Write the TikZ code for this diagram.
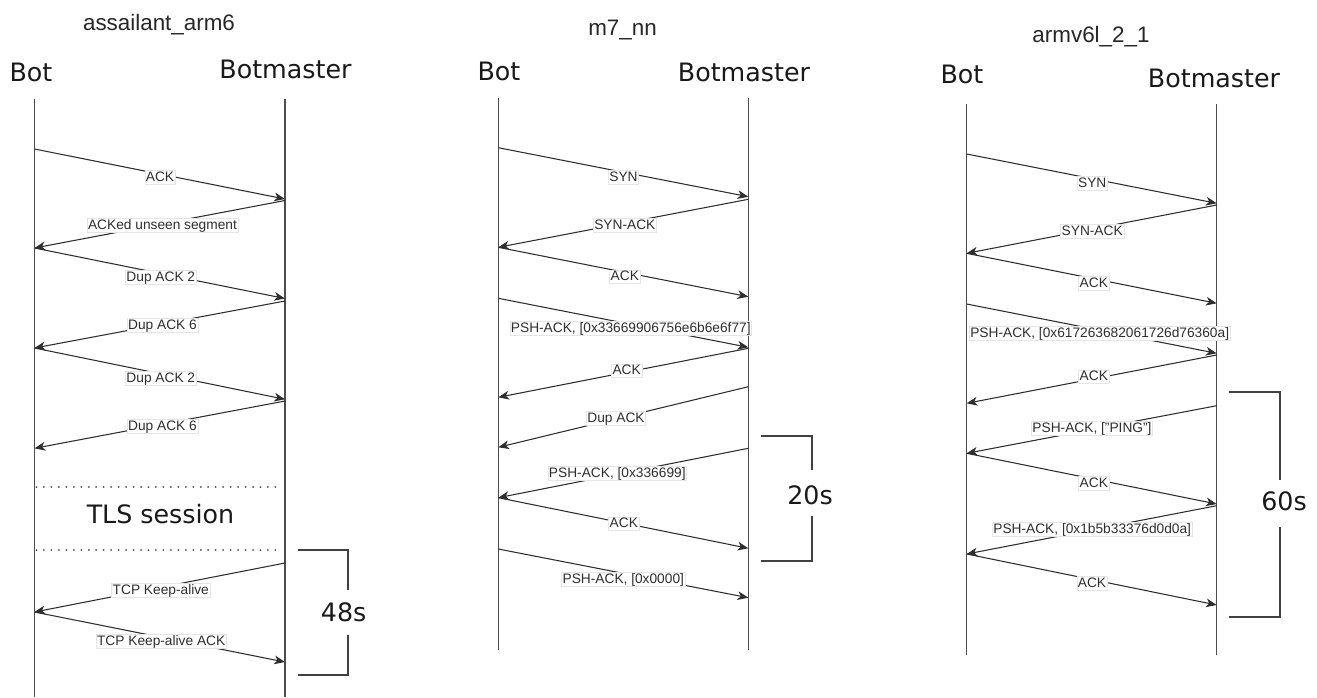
\documentclass[tikz,border=0pt]{standalone}
\usepackage{fontspec}
\setmainfont{Liberation Sans}
\newfontfamily\headfont{DejaVu Sans}
\usetikzlibrary{arrows.meta}
\definecolor{ink}{HTML}{2E2E2E}
\definecolor{lifegray}{HTML}{4D4D4D}
\begin{document}
\begin{tikzpicture}[x=0.75pt,y=-0.75pt,
  title/.style={anchor=base, inner sep=0pt, text=black!85, font=\fontsize{16.8}{20}\selectfont},
  head/.style={anchor=base, inner sep=0pt, text=black!90, font=\headfont\fontsize{19}{22}\selectfont},
  big/.style={anchor=base, inner sep=0pt, text=black!90, font=\headfont\fontsize{19}{22}\selectfont},
  life/.style={draw=lifegray, line width=0.8pt},
  msg/.style={draw=ink, line width=0.8pt, -{Stealth[length=8pt,width=6.5pt,inset=2.3pt]}},
  lbl/.style={fill=white, draw=black!10, line width=0.4pt, inner xsep=0.8pt, inner ysep=0.6pt,
    text height=7.6pt, text depth=1.6pt, text=ink, font=\fontsize{10.3}{12}\selectfont},
  sep/.style={draw=black!70, line width=1.5pt, line cap=round, dash pattern=on 0pt off 5.6pt},
  brk/.style={draw=black!75, line width=0.8pt}]
\useasboundingbox (0,0) rectangle (1317,697);

% ---------- titles and participants ----------
\node[title] (t1) at (159,30) {assailant\_arm6};
\node[title] (t2) at (622.5,35.7) {m7\_nn};
\node[title] (t3) at (1091,42) {armv6l\_2\_1};

\node[head] (bot1) at (31,81) {Bot};
\node[head] (bm1) at (285.5,78.3) {Botmaster};
\node[head] (bot2) at (499,80) {Bot};
\node[head] (bm2) at (744,81) {Botmaster};
\node[head] (bot3) at (962,83.3) {Bot};
\node[head] (bm3) at (1214,87.3) {Botmaster};

% ---------- lifelines ----------
\coordinate (L1t) at (34.5,99);   \coordinate (L1b) at (34.5,697);
\coordinate (R1t) at (285,99);    \coordinate (R1b) at (285,697);
\coordinate (L2t) at (498.3,98);  \coordinate (L2b) at (498.3,650);
\coordinate (R2t) at (748.3,98);  \coordinate (R2b) at (748.3,650);
\coordinate (L3t) at (966.7,104); \coordinate (L3b) at (966.7,655);
\coordinate (R3t) at (1216.7,104);\coordinate (R3b) at (1216.7,655);
\foreach \p in {1,2,3} {
  \draw[life] (L\p t) -- (L\p b);
  \draw[life] (R\p t) -- (R\p b);
}

% ---------- message end points ----------
\foreach \n/\y in {1/149,2/248,3/348,4/448.3,5/612}
  \coordinate (a\n) at (34.5,\y);
\foreach \n/\y in {1/199,2/200.5,3/298.5,4/301,5/399.3,6/401,7/563,8/662}
  \coordinate (b\n) at (285,\y);
\foreach \n/\y in {1/147.7,2/247.3,3/298.3,4/397.3,5/447.3,6/497.7,7/549}
  \coordinate (c\n) at (498.3,\y);
\foreach \n/\y in {1/196.7,2/199.3,3/296.7,4/347.3,5/348.3,6/386.7,7/448.3,8/548.3,9/597.7}
  \coordinate (d\n) at (748.3,\y);
\foreach \n/\y in {1/154,2/253.3,3/304,4/403.3,5/453.3,6/554}
  \coordinate (e\n) at (966.7,\y);
\foreach \n/\y in {1/203.3,2/205,3/303.3,4/353.3,5/355,6/405.7,7/504,8/505.7,9/605}
  \coordinate (f\n) at (1216.7,\y);

% ---------- assailant_arm6 ----------
\draw[msg] (a1) -- (b1) node[lbl] at (160,177) {ACK};
\draw[msg] (b2) -- (a2) node[lbl] at (162.5,225) {ACKed unseen segment};
\draw[msg] (a2) -- (b3) node[lbl] at (160.8,277.3) {Dup ACK 2};
\draw[msg] (b4) -- (a3) node[lbl] at (162.5,325) {Dup ACK 6};
\draw[msg] (a3) -- (b5) node[lbl] at (160.8,378.3) {Dup ACK 2};
\draw[msg] (b6) -- (a4) node[lbl] at (162.5,426) {Dup ACK 6};

\draw[sep] (36.5,487) -- (278,487);
\node[big] (tls) at (160.5,523.3) {TLS session};
\draw[sep] (36.5,550) -- (278,550);

\draw[msg] (b7) -- (a5) node[lbl] at (160.8,590) {TCP Keep-alive};
\draw[msg] (a5) -- (b8) node[lbl] at (161.2,641) {TCP Keep-alive ACK};

\draw[brk] (298,550) -- (348,550) -- (348,590);
\draw[brk] (348,635) -- (348,675) -- (298,675);
\node[big] (d48) at (343.7,621) {48s};

% ---------- m7_nn ----------
\draw[msg] (c1) -- (d1) node[lbl] at (623.5,177.3) {SYN};
\draw[msg] (d2) -- (c2) node[lbl] at (624.8,225.3) {SYN-ACK};
\draw[msg] (c2) -- (d3) node[lbl] at (624.8,276.7) {ACK};
\draw[msg] (c3) -- (d4) node[lbl] at (630.8,328.3) {PSH-ACK, [0x33669906756e6b6e6f77]};
\draw[msg] (d5) -- (c4) node[lbl] at (626.7,370.7) {ACK};
\draw[msg] (d6) -- (c5) node[lbl] at (616,418.3) {Dup ACK};
\draw[msg] (d7) -- (c6) node[lbl] at (617.3,473.3) {PSH-ACK, [0x336699]};
\draw[msg] (c6) -- (d8) node[lbl] at (623.8,523.8) {ACK};
\draw[msg] (c7) -- (d9) node[lbl] at (623.3,579) {PSH-ACK, [0x0000]};

\draw[brk] (761,436) -- (812,436) -- (812,470);
\draw[brk] (812,516) -- (812,561) -- (761,561);
\node[big] (d20) at (810,504.3) {20s};

% ---------- armv6l_2_1 ----------
\draw[msg] (e1) -- (f1) node[lbl] at (1092.2,183.3) {SYN};
\draw[msg] (f2) -- (e2) node[lbl] at (1092.2,231) {SYN-ACK};
\draw[msg] (e2) -- (f3) node[lbl] at (1093.8,283.3) {ACK};
\draw[msg] (e3) -- (f4) node[lbl] at (1099.7,333.3) {PSH-ACK, [0x617263682061726d76360a]};
\draw[msg] (f5) -- (e4) node[lbl] at (1093.8,376.7) {ACK};
\draw[msg] (f6) -- (e5) node[lbl] at (1092,428.3) {PSH-ACK, ["PING"]};
\draw[msg] (e5) -- (f7) node[lbl] at (1093.8,483.3) {ACK};
\draw[msg] (f8) -- (e6) node[lbl] at (1092.2,529) {PSH-ACK, [0x1b5b33376d0d0a]};
\draw[msg] (e6) -- (f9) node[lbl] at (1092,583.3) {ACK};

\draw[brk] (1229,392) -- (1280,392) -- (1280,480);
\draw[brk] (1280,527) -- (1280,617) -- (1229,617);
\node[big] (d60) at (1284,510.7) {60s};
\end{tikzpicture}
\end{document}
